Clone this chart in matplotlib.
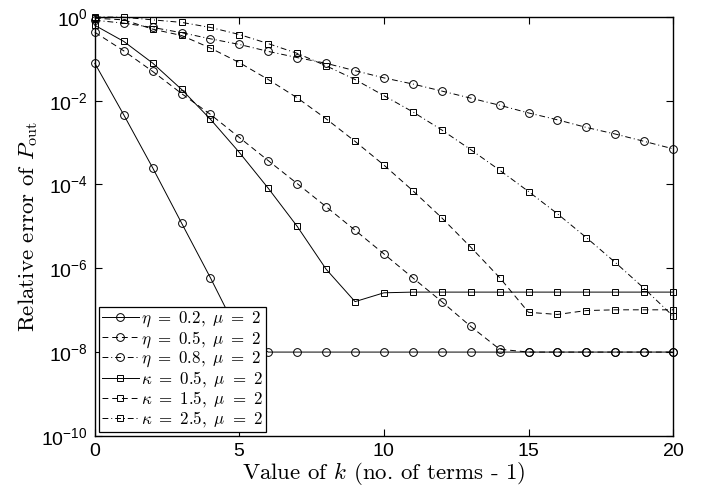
import numpy as np
import matplotlib
matplotlib.use('Agg')
import matplotlib.pyplot as plt

plt.rcParams['mathtext.fontset'] = 'cm'
plt.rcParams['axes.formatter.use_mathtext'] = True

# Values (relative error vs k)
k = list(range(21))
eta_02 = [7.8e-2, 4.6e-3, 2.5e-4, 1.2e-5, 5.9e-7, 2.5e-8] + [1e-8] * 15
eta_05 = [0.43, 0.155, 0.050, 0.0148, 4.7e-3, 1.32e-3, 3.7e-4, 1.05e-4, 2.95e-5,
          8.1e-6, 2.2e-6, 5.9e-7, 1.6e-7, 4.1e-8, 1.17e-8, 1e-8, 1e-8, 1e-8, 1e-8,
          1e-8, 1e-8]
eta_08 = [0.83, 0.71, 0.56, 0.42, 0.30, 0.22, 0.15, 0.107, 0.078, 0.052, 0.035,
          0.025, 0.017, 0.0115, 7.8e-3, 5.1e-3, 3.5e-3, 2.3e-3, 1.6e-3, 1.07e-3,
          7.1e-4]
kap_05 = [0.63, 0.26, 0.079, 0.0186, 3.6e-3, 5.8e-4, 8.1e-5, 1.0e-5, 9.5e-7,
          1.6e-7, 2.6e-7] + [2.7e-7] * 10
kap_15 = [0.93, 0.85, 0.51, 0.36, 0.18, 0.081, 0.032, 0.0117, 3.7e-3, 1.07e-3,
          2.9e-4, 7.1e-5, 1.6e-5, 3.2e-6, 6.0e-7, 8.9e-8, 7.9e-8, 9.8e-8, 1.02e-7,
          1.02e-7, 1.02e-7]
kap_25 = [1.0, 0.98, 0.85, 0.74, 0.56, 0.38, 0.23, 0.135, 0.068, 0.032, 0.0132,
          5.4e-3, 2.0e-3, 6.8e-4, 2.2e-4, 6.8e-5, 2.0e-5, 5.4e-6, 1.38e-6, 3.3e-7,
          7.2e-8]

series = [
    (eta_02, 'o', '-', r'$\eta\ =\ 0.2,\ \mu\ =\ 2$'),
    (eta_05, 'o', '--', r'$\eta\ =\ 0.5,\ \mu\ =\ 2$'),
    (eta_08, 'o', '-.', r'$\eta\ =\ 0.8,\ \mu\ =\ 2$'),
    (kap_05, 's', '-', r'$\kappa\ =\ 0.5,\ \mu\ =\ 2$'),
    (kap_15, 's', '--', r'$\kappa\ =\ 1.5,\ \mu\ =\ 2$'),
    (kap_25, 's', '-.', r'$\kappa\ =\ 2.5,\ \mu\ =\ 2$'),
]
dash_styles = {'--': (6, 4), '-.': (6, 3, 1, 3)}

fig = plt.figure(figsize=(7.13, 4.97), dpi=100)
ax = fig.add_axes([0.133, 0.123, 0.811, 0.843])

for vals, mk, ls, lab in series:
    line, = ax.plot(k, vals, color='k', linewidth=0.7, marker=mk,
                    markersize=5.6 if mk == 'o' else 4.6, markerfacecolor='none',
                    markeredgecolor='k', markeredgewidth=0.7, label=lab,
                    clip_on=False)
    if ls != '-':
        line.set_dashes(dash_styles[ls])

ax.set_yscale('log')
ax.set_xlim(0, 20)
ax.set_ylim(1e-10, 1e0)
ax.set_xticks([0, 5, 10, 15, 20])
ax.set_yticks([1e-10, 1e-8, 1e-6, 1e-4, 1e-2, 1e0])
ax.yaxis.set_minor_locator(matplotlib.ticker.NullLocator())
ax.tick_params(direction='in', top=True, right=True, length=5, width=0.8,
               labelsize=14, pad=5)
for lbl in ax.get_xticklabels() + ax.get_yticklabels():
    lbl.set_fontfamily('Liberation Sans')
for sp in ax.spines.values():
    sp.set_linewidth(1.0)

ax.set_xlabel(r'Value of $k$ (no. of terms - 1)', fontfamily='cmr10',
              fontsize=16.5, labelpad=0)
ax.set_ylabel(r'Relative error of $P_{\rm out}$', fontfamily='cmr10',
              fontsize=16.5, labelpad=1)

leg = ax.legend(loc='lower left', prop={'family': 'cmr10', 'size': 12.2},
                handlelength=2.2, handletextpad=0.15, labelspacing=0.0,
                borderpad=0.15, borderaxespad=0.25, fancybox=False,
                framealpha=1, edgecolor='k')
leg.get_frame().set_linewidth(0.9)

fig.savefig('out.png', dpi=100)
